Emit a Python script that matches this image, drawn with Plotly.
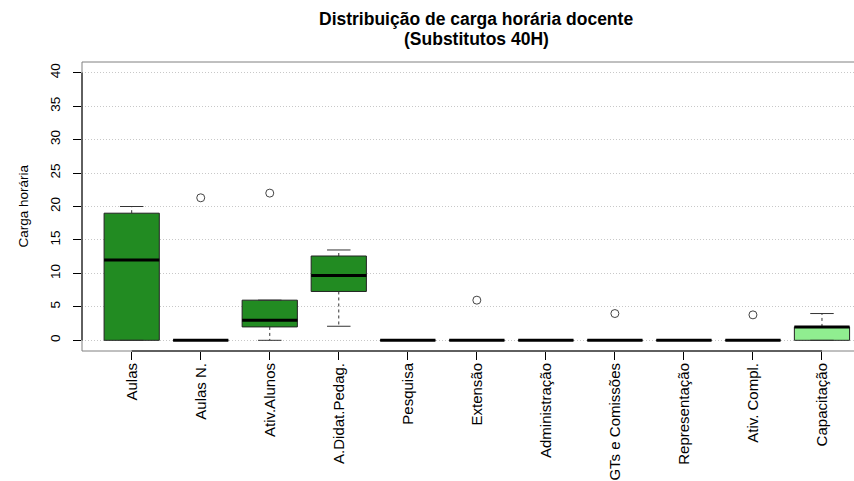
import plotly.graph_objects as go

categories = ["Aulas", "Aulas N.", "Ativ.Alunos", "A.Didat.Pedag.", "Pesquisa", "Extensão",
              "Administração", "GTs e Comissões", "Representação", "Ativ. Compl.", "Capacitação"]
lower_whisker = [0, 0, 0, 2.1, 0, 0, 0, 0, 0, 0, 0]
q1 = [0, 0, 2, 7.3, 0, 0, 0, 0, 0, 0, 0]
median = [12, 0, 3, 9.7, 0, 0, 0, 0, 0, 0, 2]
q3 = [19, 0, 6, 12.6, 0, 0, 0, 0, 0, 0, 2]
upper_whisker = [20, 0, 6, 13.5, 0, 0, 0, 0, 0, 0, 4]
outlier_cats = ["Aulas N.", "Ativ.Alunos", "Extensão", "GTs e Comissões", "Ativ. Compl."]
outlier_vals = [21.3, 22, 6, 4, 3.8]
box_colors = ["#228B22"] * 10 + ["#90EE90"]
y_ticks = [0, 5, 10, 15, 20, 25, 30, 35, 40]
title_lines = ["Distribuição de carga horária docente", "(Substitutos 40H)"]

FONT = "Liberation Sans, Arial, sans-serif"
HALF = 0.4     # half box width (category units)
CAP = 0.17     # half staple width

fig = go.Figure()
pos = {c: i + 1 for i, c in enumerate(categories)}

for i, c in enumerate(categories):
    x = i + 1
    fig.add_trace(go.Scatter(
        x=[x - HALF, x + HALF, x + HALF, x - HALF, x - HALF],
        y=[q1[i], q1[i], q3[i], q3[i], q1[i]],
        mode="lines", fill="toself", fillcolor=box_colors[i],
        line=dict(color="#222222", width=1), hoverinfo="skip", showlegend=False))
    fig.add_trace(go.Scatter(
        x=[x, x, None, x, x],
        y=[q3[i], upper_whisker[i], None, q1[i], lower_whisker[i]],
        mode="lines", line=dict(color="#333333", width=1, dash="3px,3px"),
        hoverinfo="skip", showlegend=False))
    fig.add_trace(go.Scatter(
        x=[x - CAP, x + CAP, None, x - CAP, x + CAP],
        y=[upper_whisker[i], upper_whisker[i], None, lower_whisker[i], lower_whisker[i]],
        mode="lines", line=dict(color="#333333", width=1),
        hoverinfo="skip", showlegend=False))
    fig.add_trace(go.Scatter(
        x=[x - HALF, x + HALF], y=[median[i], median[i]],
        mode="lines", line=dict(color="black", width=3),
        hoverinfo="skip", showlegend=False))

fig.add_trace(go.Scatter(
    x=[pos[c] for c in outlier_cats], y=outlier_vals, mode="markers",
    marker=dict(symbol="circle-open", size=8, color="#444444", line=dict(width=1)),
    hoverinfo="skip", showlegend=False))

frame = "#808080"
shapes = [
    dict(type="line", xref="paper", yref="paper", x0=0, x1=1, y0=1, y1=1, line=dict(color=frame, width=1)),
    dict(type="line", xref="paper", yref="paper", x0=0, x1=1, y0=0, y1=0, line=dict(color=frame, width=1)),
    dict(type="line", xref="paper", yref="paper", x0=0, x1=0, y0=0, y1=1, line=dict(color=frame, width=1)),
    dict(type="line", xref="paper", yref="y", x0=0, x1=0, y0=y_ticks[0], y1=y_ticks[-1], line=dict(color="black", width=1)),
    dict(type="line", xref="x", yref="paper", x0=1, x1=len(categories), y0=0, y1=0, line=dict(color="black", width=1)),
]

annotations = [dict(text="Carga horária", xref="paper", yref="paper", x=0, y=0.5,
                    xshift=-59, textangle=-90, showarrow=False, xanchor="center", yanchor="middle",
                    font=dict(family=FONT, size=13.5, color="black"))]
for k, (line, shift) in enumerate(zip(title_lines, [43, 23])):
    annotations.append(dict(text="<b>" + line + "</b>", xref="paper", yref="paper", x=0.511, y=1,
                            yshift=shift, showarrow=False, xanchor="center", yanchor="middle",
                            font=dict(family=FONT, size=17.5, color="black")))

fig.update_layout(
    width=854, height=481,
    margin=dict(l=82, r=0, t=62, b=130),
    paper_bgcolor="white", plot_bgcolor="white",
    font=dict(family=FONT, color="black"),
    shapes=shapes,
    annotations=annotations,
    xaxis=dict(range=[0.28, 11.464], tickmode="array", tickvals=list(range(1, len(categories) + 1)),
               ticktext=categories, tickangle=-90, ticks="outside", ticklen=8, tickcolor="black",
               tickfont=dict(family=FONT, size=15, color="black"), automargin=False,
               showgrid=False, zeroline=False, showline=False, ticklabelstandoff=-3),
    yaxis=dict(range=[-1.6, 41.6], tickmode="array", tickvals=y_ticks, tickangle=-90,
               ticks="outside", ticklen=8, tickcolor="black", automargin=False,
               tickfont=dict(family=FONT, size=13.5, color="black"),
               showgrid=True, gridcolor="#c8c8c8", griddash="1px,2px", gridwidth=1,
               zeroline=False, showline=False, ticklabelstandoff=8),
)

fig.write_html("out.html", config={"displayModeBar": False},
               post_script="document.body.style.margin='0';document.body.style.overflow='hidden';")
